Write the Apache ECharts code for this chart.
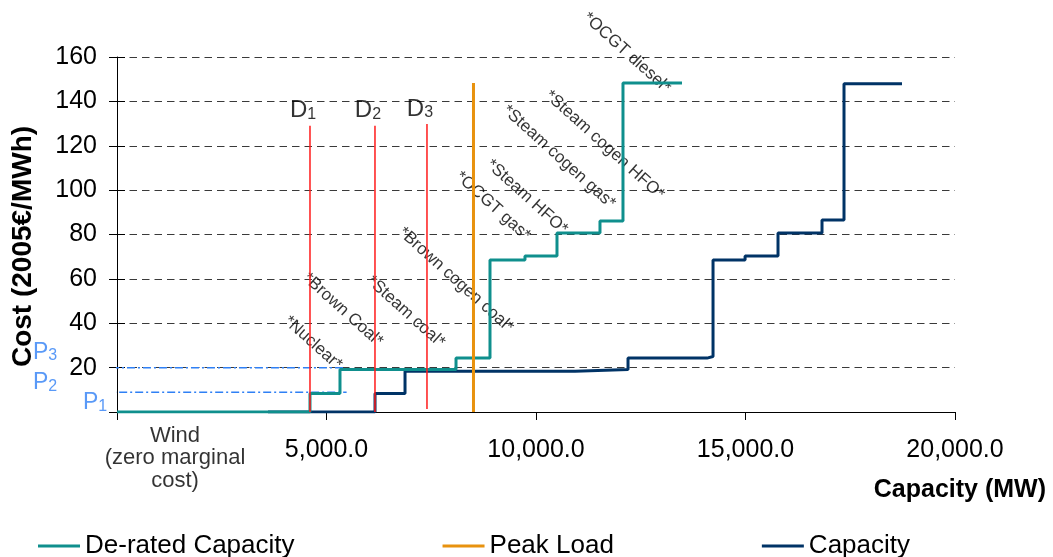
<!DOCTYPE html>
<html><head><meta charset="utf-8">
<script src="https://cdn.jsdelivr.net/npm/echarts@6/dist/echarts.min.js"></script>
<style>html,body{margin:0;padding:0;background:#fff}#c{width:1053px;height:557px}</style>
</head><body><div id="c"></div>
<script>
// ---- axis ticks ----
const xTickValues = [0, 5000, 10000, 15000, 20000];
const xTickLabels = ['', '5,000.0', '10,000.0', '15,000.0', '20,000.0'];
const yTickValues = [0, 20, 40, 60, 80, 100, 120, 140, 160];
const yTickLabels = ['', '20', '40', '60', '80', '100', '120', '140', '160'];

// ---- supply curves (step: level y[i] starts at x[i]) ----
const deratedX = [0, 4606, 5322, 8091, 8902, 9737, 10501, 11527, 12076, 13484];
const deratedY = [0, 8.3, 19.2, 24.3, 68.5, 70.3, 80.7, 86.1, 148.3, 148.3];
const capacityX = [3604, 6158, 6874, 10931, 12196, 14082, 14225, 14990, 15776, 16826, 17351, 18735];
const capacityY = [0, 8.3, 18.4, 19.2, 24.3, 25.0, 68.5, 70.3, 80.7, 86.5, 148.0, 148.0];

// ---- peak load ----
const peakLoadX = 8508;
const peakLoadY = [0, 148.3];

// ---- demand lines D1..D3 ----
const demandIdx = ['1', '2', '3'];
const demandX = [4606, 6157, 7398];
const demandTop = [129, 129, 129.8];
const demandBottom = [0, 0, 1.4];

// ---- price lines and labels P1..P3 ----
const priceLineY = [8.9, 19.9];
const priceLineStart = [-330, -1290];
const priceLineEnd = [5480, 5440];
const priceIdx = ['1', '2', '3'];
const priceLabelX = [-525, -1718, -1718];
const priceLabelY = [4.1, 13.1, 26.8];

// ---- plant type labels ----
const plantNames = ['*Nuclear*', '*Brown Coal*', '*Steam coal*', '*Brown cogen coal*', '*OCGT gas*',
  '*Steam HFO*', '*Steam cogen gas*', '*Steam cogen HFO*', '*OCGT diesel*'];
const plantLabelX = [4678, 5394, 6897, 8091, 8974, 9785, 10549, 11640, 12170];
const plantLabelY = [31.1, 46.0, 45.1, 59.5, 92.8, 96.9, 114.9, 120.3, 161.9];

const windLabel = 'Wind\n(zero marginal\ncost)';
const windLabelPos = [1384, 0];

const FONT = '"Liberation Sans", Arial, sans-serif';
const TEAL = '#0f8f8d', NAVY = '#003366', ORANGE = '#e8920e', RED = '#ff1a1a', BLUE = '#2f80f5';

const chart = echarts.init(document.getElementById('c'), null, {renderer: 'canvas'});

const series = [];
series.push({
  name: 'Capacity', type: 'line', step: 'end', showSymbol: false,
  data: capacityX.map((x, i) => [x, capacityY[i]]),
  lineStyle: {color: NAVY, width: 3}, itemStyle: {color: NAVY}, z: 3
});
series.push({
  name: 'De-rated Capacity', type: 'line', step: 'end', showSymbol: false,
  data: deratedX.map((x, i) => [x, deratedY[i]]),
  lineStyle: {color: TEAL, width: 3}, itemStyle: {color: TEAL}, z: 4
});
series.push({
  name: 'Peak Load', type: 'line', showSymbol: false,
  data: peakLoadY.map(y => [peakLoadX, y]),
  lineStyle: {color: ORANGE, width: 3}, itemStyle: {color: ORANGE}, z: 5
});
demandX.forEach((x, i) => {
  series.push({
    type: 'line', showSymbol: false, silent: true,
    data: [[x, demandTop[i]], [x, demandBottom[i]]],
    lineStyle: {color: RED, width: 1.5}, z: 6
  });
});
priceLineY.forEach((y, i) => {
  series.push({
    type: 'line', showSymbol: false, silent: true, clip: false,
    data: [[priceLineStart[i], y], [priceLineEnd[i], y]],
    lineStyle: {color: BLUE, width: 1.5, type: [8, 3, 2, 3]}, z: 2
  });
});
// D labels
series.push({
  type: 'scatter', symbolSize: 0, silent: true, clip: false,
  data: demandX.map((x, i) => ({value: [x, demandTop[i]], idx: demandIdx[i]})),
  label: {
    show: true, position: 'top', distance: 3, offset: [-7, 0],
    formatter: p => '{d|D}{s|' + p.data.idx + '}',
    rich: {
      d: {fontSize: 24, fontFamily: FONT, color: '#000', lineHeight: 24, verticalAlign: 'bottom'},
      s: {fontSize: 16, fontFamily: FONT, color: '#000', lineHeight: 14, verticalAlign: 'bottom'}
    }
  }
});
// P labels
series.push({
  type: 'scatter', symbolSize: 0, silent: true, clip: false,
  data: priceLabelX.map((x, i) => ({value: [x, priceLabelY[i]], idx: priceIdx[i]})),
  label: {
    show: true, position: 'inside',
    formatter: p => '{p|P}{s|' + p.data.idx + '}',
    rich: {
      p: {fontSize: 23, fontFamily: FONT, color: BLUE, lineHeight: 23, verticalAlign: 'bottom'},
      s: {fontSize: 16, fontFamily: FONT, color: BLUE, lineHeight: 14, verticalAlign: 'bottom'}
    }
  }
});
// plant labels
series.push({
  type: 'scatter', symbolSize: 0, silent: true, clip: false,
  data: plantLabelX.map((x, i) => ({value: [x, plantLabelY[i]], name: plantNames[i]})),
  label: {
    show: true, position: 'inside', rotate: -42, formatter: p => p.name,
    fontSize: 17, fontFamily: FONT, color: '#000'
  }
});
// wind label
series.push({
  type: 'scatter', symbolSize: 0, silent: true, clip: false,
  data: [{value: windLabelPos, name: windLabel}],
  label: {
    show: true, position: 'inside', offset: [0, 46], formatter: p => p.name,
    fontSize: 22, lineHeight: 22.5, fontFamily: FONT, color: '#000', align: 'center'
  }
});

const option = {
  animation: false,
  backgroundColor: '#fff',
  grid: {left: 117, right: 98, top: 57, bottom: 145, containLabel: false},
  title: {
    text: 'Capacity (MW)', right: 2, top: 473,
    textStyle: {fontSize: 25, fontWeight: 'bold', fontFamily: FONT, color: '#000'}
  },
  legend: {
    data: ['De-rated Capacity', 'Peak Load', 'Capacity'],
    left: 38, top: 533, padding: 0, icon: 'rect', itemWidth: 42, itemHeight: 3, itemGap: 148,
    textStyle: {fontSize: 26, fontFamily: FONT, color: '#000'}
  },
  xAxis: {
    type: 'value', min: 0, max: 20000, interval: 5000,
    axisLine: {show: true, lineStyle: {color: '#000', width: 1}},
    axisTick: {show: true, length: 8, lineStyle: {color: '#000'}},
    axisLabel: {
      margin: 26, fontSize: 25, fontFamily: FONT, color: '#000',
      formatter: v => { const i = xTickValues.indexOf(v); return i >= 0 ? xTickLabels[i] : ''; }
    },
    splitLine: {show: false}
  },
  yAxis: [{
    type: 'value', min: 0, max: 160, interval: 20,
    name: 'Cost (2005€/MWh)', nameLocation: 'middle', nameGap: 80, nameRotate: 90,
    nameTextStyle: {fontSize: 28, fontWeight: 'bold', fontFamily: FONT, color: '#000', padding: [0, 24, 0, 0]},
    axisLine: {show: true, lineStyle: {color: '#000', width: 1}},
    axisTick: {show: true, length: 8, lineStyle: {color: '#000'}},
    axisLabel: {
      margin: 20, fontSize: 25, fontFamily: FONT, color: '#000',
      formatter: v => { const i = yTickValues.indexOf(v); return i >= 0 ? yTickLabels[i] : ''; }
    },
    splitLine: {show: true, lineStyle: {color: '#3a3a3a', width: 1, type: [7.5, 5]}}
  }, {
    type: 'value', min: 0, max: 160, interval: 20, position: 'left',
    axisLine: {show: false}, axisLabel: {show: false}, splitLine: {show: false},
    axisTick: {show: true, inside: true, length: 8, lineStyle: {color: '#000'}}
  }],
  series: series
};
chart.setOption(option);
</script>
</body></html>
